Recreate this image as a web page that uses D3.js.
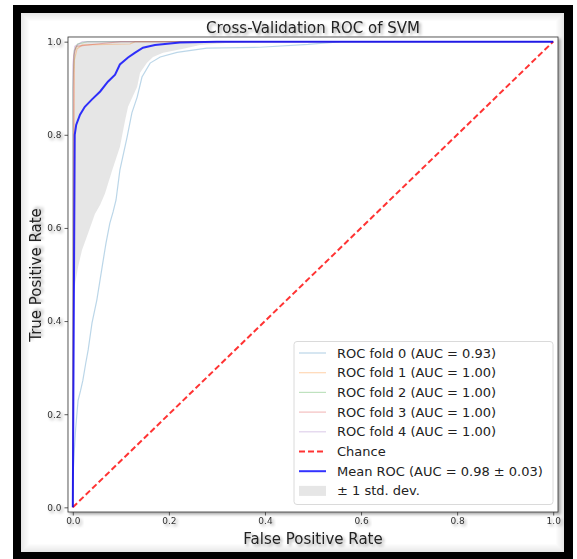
<!DOCTYPE html>
<html>
<head>
<meta charset="utf-8">
<script src="https://cdn.jsdelivr.net/npm/d3@7"></script>
<style>
  html, body { margin: 0; padding: 0; background: #fff; }
  svg { display: block; font-family: "DejaVu Sans", sans-serif; }
</style>
</head>
<body>
<div id="chart"></div>
<script>
var width  = 577;
var height = 559;

// ROC curves of the five folds
var fold0Fpr = [0, 0, 0.003, 0.006, 0.011, 0.016, 0.021, 0.027, 0.032, 0.040, 0.050, 0.061, 0.069, 0.077, 0.084, 0.090, 0.098, 0.113, 0.123, 0.134, 0.144, 0.161, 0.182, 0.217, 0.279, 0.390, 0.490, 0.560, 1.0];
var fold0Tpr = [0, 0.06, 0.12, 0.17, 0.23, 0.25, 0.273, 0.31, 0.338, 0.396, 0.445, 0.516, 0.567, 0.610, 0.635, 0.660, 0.724, 0.795, 0.847, 0.881, 0.924, 0.954, 0.967, 0.977, 0.986, 0.988, 0.994, 1.0, 1.0];
var fold1Fpr = [0, 0.003, 0.009, 0.020, 0.119, 0.130, 1.0];
var fold1Tpr = [0, 0.960, 0.985, 0.993, 0.995, 1.0, 1.0];
var fold2Fpr = [0, 0, 0.003, 0.010, 0.030, 1.0];
var fold2Tpr = [0, 0.90, 0.98, 0.995, 1.0, 1.0];
var fold3Fpr = [0, 0.001, 0.002, 0.007, 0.050, 0.100, 1.0];
var fold3Tpr = [0, 0.50, 0.97, 0.99, 0.995, 1.0, 1.0];
var fold4Fpr = [0, 0, 0.004, 0.020, 1.0];
var fold4Tpr = [0, 0.95, 0.99, 1.0, 1.0];
var foldAuc  = ["0.93", "1.00", "1.00", "1.00", "1.00"];

// mean ROC
var meanFpr = [0, 0.004, 0.007, 0.015, 0.025, 0.040, 0.057, 0.073, 0.088, 0.098, 0.115, 0.129, 0.146, 0.171, 0.223, 0.300, 1.0];
var meanTpr = [0, 0.800, 0.821, 0.843, 0.860, 0.876, 0.893, 0.914, 0.929, 0.951, 0.966, 0.976, 0.987, 0.993, 0.998, 1.0, 1.0];

// +/- 1 std band
var bandFpr   = [0, 0.003, 0.005, 0.011, 0.019, 0.032, 0.046, 0.057, 0.067, 0.082, 0.098, 0.109, 0.115, 0.134, 0.140, 0.154, 0.167, 0.188, 0.230, 0.265, 0.320, 0.390, 1.0];
var bandUpper = [0, 0.975, 0.988, 0.994, 0.997, 1, 1, 1, 1, 1, 1, 1, 1, 1, 1, 1, 1, 1, 1, 1, 1, 1, 1];
var bandLower = [0, 0.460, 0.481, 0.516, 0.552, 0.589, 0.630, 0.650, 0.674, 0.724, 0.774, 0.832, 0.860, 0.903, 0.933, 0.954, 0.967, 0.976, 0.985, 0.993, 0.997, 1.0, 1.0];

var tickValues = [0, 0.2, 0.4, 0.6, 0.8, 1.0];

var folds = [
  [fold0Fpr, fold0Tpr, "#1f77b4"],
  [fold1Fpr, fold1Tpr, "#ff7f0e"],
  [fold2Fpr, fold2Tpr, "#2ca02c"],
  [fold3Fpr, fold3Tpr, "#d62728"],
  [fold4Fpr, fold4Tpr, "#9467bd"]
];

var svg = d3.select("#chart").append("svg")
  .attr("width", width)
  .attr("height", height);

var defs = svg.append("defs");
defs.append("filter").attr("id", "shadow")
    .attr("x", "-20%").attr("y", "-20%").attr("width", "140%").attr("height", "160%")
  .append("feDropShadow")
    .attr("dx", 2).attr("dy", 2).attr("stdDeviation", 1.6)
    .attr("flood-color", "#000").attr("flood-opacity", 0.35);
defs.append("clipPath").attr("id", "plotclip")
  .append("rect").attr("x", 68).attr("y", 37).attr("width", 490).attr("height", 475);

// black frame with soft inner shadow
svg.append("rect").attr("x", 13).attr("y", 5).attr("width", 560).attr("height", 560).attr("fill", "#000");
svg.append("rect").attr("x", 21).attr("y", 13).attr("width", 543).attr("height", 539).attr("fill", "#fff");
d3.range(8).forEach(function(i) {
  svg.append("rect")
     .attr("x", 21.5 + i).attr("y", 13.5 + i)
     .attr("width", 542 - 2 * i).attr("height", 538 - 2 * i)
     .attr("fill", "none")
     .attr("stroke", "#000")
     .attr("stroke-opacity", 0.09 * (1 - i / 8));
});

var x = d3.scaleLinear().domain([-0.01, 1.01]).range([68, 558]);
var y = d3.scaleLinear().domain([-0.01, 1.01]).range([512, 37]);

// axes box with shadow
svg.append("rect")
   .attr("x", 68).attr("y", 37).attr("width", 490).attr("height", 475)
   .attr("fill", "#fff")
   .attr("stroke", "#333").attr("stroke-width", 0.8)
   .attr("filter", "url(#shadow)");

var plot = svg.append("g").attr("clip-path", "url(#plotclip)");

var line = d3.line()
  .x(function(d) { return x(d[0]); })
  .y(function(d) { return y(d[1]); });

function pairs(xs, ys) {
  return xs.map(function(v, i) { return [v, ys[i]]; });
}

var band = d3.area()
  .x(function(d) { return x(d[0]); })
  .y0(function(d) { return y(d[1]); })
  .y1(function(d) { return y(d[2]); });

plot.append("path")
    .datum(bandFpr.map(function(v, i) { return [v, bandLower[i], bandUpper[i]]; }))
    .attr("d", band)
    .attr("fill", "#808080")
    .attr("fill-opacity", 0.2);

folds.forEach(function(f) {
  plot.append("path")
      .datum(pairs(f[0], f[1]))
      .attr("d", line)
      .attr("fill", "none")
      .attr("stroke", f[2])
      .attr("stroke-opacity", 0.3)
      .attr("stroke-width", 1.2);
});

plot.append("path")
    .datum([[0, 0], [1, 1]])
    .attr("d", line)
    .attr("fill", "none")
    .attr("stroke", "red")
    .attr("stroke-opacity", 0.8)
    .attr("stroke-width", 2)
    .attr("stroke-dasharray", "6,3");

plot.append("path")
    .datum(pairs(meanFpr, meanTpr))
    .attr("d", line)
    .attr("fill", "none")
    .attr("stroke", "blue")
    .attr("stroke-opacity", 0.8)
    .attr("stroke-width", 2);

// axes
var fmt = d3.format(".1f");
var xAxis = svg.append("g")
  .attr("transform", "translate(0,512)")
  .call(d3.axisBottom(x).tickValues(tickValues).tickFormat(fmt).tickSize(3.5).tickPadding(2));
var yAxis = svg.append("g")
  .attr("transform", "translate(68,0)")
  .call(d3.axisLeft(y).tickValues(tickValues).tickFormat(fmt).tickSize(3.5).tickPadding(3));
[xAxis, yAxis].forEach(function(a) {
  a.select(".domain").remove();
  a.selectAll(".tick line").attr("stroke", "#333").attr("stroke-width", 0.8);
  a.selectAll(".tick text")
   .attr("fill", "#333")
   .attr("font-size", 9)
   .attr("font-family", "DejaVu Sans")
   .attr("filter", "url(#shadow)");
});

// titles
svg.append("text")
   .attr("x", 313).attr("y", 33)
   .attr("text-anchor", "middle")
   .attr("font-size", 15)
   .attr("fill", "#222")
   .attr("filter", "url(#shadow)")
   .text("Cross-Validation ROC of SVM");
svg.append("text")
   .attr("x", 313).attr("y", 544)
   .attr("text-anchor", "middle")
   .attr("font-size", 15)
   .attr("fill", "#222")
   .attr("filter", "url(#shadow)")
   .text("False Positive Rate");
svg.append("text")
   .attr("transform", "translate(41,275) rotate(-90)")
   .attr("text-anchor", "middle")
   .attr("font-size", 15)
   .attr("fill", "#222")
   .attr("filter", "url(#shadow)")
   .text("True Positive Rate");

// legend
var legendItems = foldAuc.map(function(a, i) {
  return { label: "ROC fold " + i + " (AUC = " + a + ")", kind: "line", color: folds[i][2], opacity: 0.3, width: 1.2 };
});
legendItems.push({ label: "Chance", kind: "dash", color: "red", opacity: 0.8, width: 2 });
legendItems.push({ label: "Mean ROC (AUC = 0.98 \u00b1 0.03)", kind: "line", color: "blue", opacity: 0.8, width: 2 });
legendItems.push({ label: "\u00b1 1 std. dev.", kind: "patch", color: "#808080", opacity: 0.2 });

var legend = svg.append("g");
legend.append("rect")
      .attr("x", 294).attr("y", 341.5).attr("width", 259).attr("height", 163)
      .attr("rx", 3)
      .attr("fill", "#fff").attr("fill-opacity", 0.8)
      .attr("stroke", "#d0d0d0").attr("stroke-width", 0.8);

var rows = legend.selectAll("g.item").data(legendItems).enter()
  .append("g")
  .attr("class", "item")
  .attr("transform", function(d, i) { return "translate(0," + (353 + i * 19.7) + ")"; });

rows.each(function(d) {
  var g = d3.select(this);
  if (d.kind === "patch") {
    g.append("rect").attr("x", 299).attr("y", -5).attr("width", 27).attr("height", 10)
     .attr("fill", d.color).attr("fill-opacity", d.opacity);
  } else {
    g.append("line").attr("x1", 299).attr("x2", 326).attr("y1", 0).attr("y2", 0)
     .attr("stroke", d.color).attr("stroke-opacity", d.opacity)
     .attr("stroke-width", d.width)
     .attr("stroke-dasharray", d.kind === "dash" ? "6,3" : null);
  }
  g.append("text").attr("x", 337).attr("y", 0).attr("dy", "0.35em")
   .attr("font-size", 13).attr("fill", "#222")
   .text(d.label);
});
</script>
</body>
</html>
